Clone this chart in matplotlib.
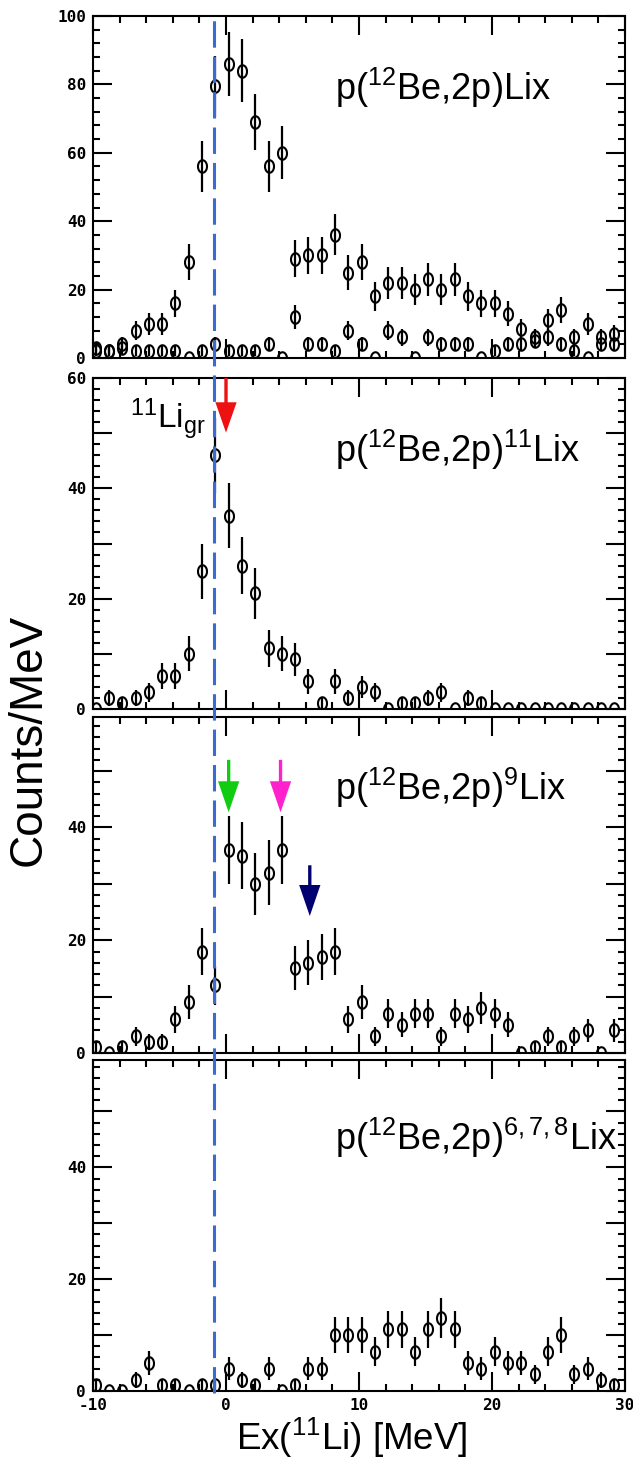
import numpy as np
import matplotlib
matplotlib.use('Agg')
import matplotlib.pyplot as plt
from matplotlib.path import Path
from matplotlib.lines import Line2D
from matplotlib.ticker import MultipleLocator
import matplotlib.transforms as mtransforms

plt.rcParams['font.family'] = 'Liberation Sans'
plt.rcParams['mathtext.fontset'] = 'custom'
plt.rcParams['mathtext.rm'] = 'Liberation Sans'
plt.rcParams['mathtext.it'] = 'Liberation Sans:italic'
plt.rcParams['mathtext.bf'] = 'Liberation Sans:bold'
plt.rcParams['lines.scale_dashes'] = False

# bin centres, Ex(11Li) [MeV]
ex = [-9.8, -8.8, -7.8, -6.8, -5.8, -4.8, -3.8, -2.8, -1.8, -0.8,
      0.2, 1.2, 2.2, 3.2, 4.2, 5.2, 6.2, 7.2, 8.2, 9.2,
      10.2, 11.2, 12.2, 13.2, 14.2, 15.2, 16.2, 17.2, 18.2, 19.2,
      20.2, 21.2, 22.2, 23.2, 24.2, 25.2, 26.2, 27.2, 28.2, 29.2]

# panel 1: all Li
lix_all = [3, 2, 4, 8, 10, 10, 16, 28, 56, 79.5, 86, 84, 69, 56, 60, 29, 30, 30, 36, 25,
           28, 18, 22, 22, 20, 23, 20, 23, 18, 16, 16, 13, 8.5, 6, 11, 14, 6, 10, 6, 7]
lix_all_err = [1.7, 1.4, 2.0, 2.8, 3.2, 3.2, 4.0, 5.3, 7.5, 8.9, 9.3, 9.2, 8.3, 7.5, 7.7, 5.4, 5.5, 5.5, 6.0, 5.0,
               5.3, 4.2, 4.7, 4.7, 4.5, 4.8, 4.5, 4.8, 4.2, 4.0, 4.0, 3.6, 2.9, 2.4, 3.3, 3.7, 2.4, 3.2, 2.4, 2.6]
lix_low = [2, 2, 3, 2, 2, 2, 2, 0, 2, 4, 2, 2, 2, 4, 0, 12, 4, 4, 2, 8,
           4, 0, 8, 6, 0, 6, 4, 4, 4, 0, 2, 4, 4, 5, 6, 4, 2, 0, 4, 4]
lix_low_err = [1.4, 1.4, 1.7, 1.4, 1.4, 1.4, 1.4, 0, 1.4, 2.0, 1.4, 1.4, 1.4, 2.0, 0, 3.5, 2.0, 2.0, 1.4, 2.8,
               2.0, 0, 2.8, 2.4, 0, 2.4, 2.0, 2.0, 2.0, 0, 1.4, 2.0, 2.0, 2.2, 2.4, 2.0, 1.4, 0, 2.0, 2.0]

# panel 2: 11Li
li11 = [0, 2, 1, 2, 3, 6, 6, 10, 25, 46, 35, 26, 21, 11, 10, 9, 5, 1, 5, 2,
        4, 3, 0, 1, 1, 2, 3, 0, 2, 1, 0, 0, 0, 0, 0, 0, 0, 0, 0, 0]
li11_err = [0, 1.4, 1.0, 1.4, 1.7, 2.4, 2.4, 3.2, 5.0, 6.8, 5.9, 5.1, 4.6, 3.3, 3.2, 3.0, 2.2, 1.0, 2.2, 1.4,
            2.0, 1.7, 0, 1.0, 1.0, 1.4, 1.7, 0, 1.4, 1.0, 0, 0, 0, 0, 0, 0, 0, 0, 0, 0]

# panel 3: 9Li
li9 = [1, 0, 1, 3, 2, 2, 6, 9, 18, 12, 36, 35, 30, 32, 36, 15, 16, 17, 18, 6,
       9, 3, 7, 5, 7, 7, 3, 7, 6, 8, 7, 5, 0, 1, 3, 1, 3, 4, 0, 4]
li9_err = [1.0, 0, 1.0, 1.7, 1.4, 1.4, 2.4, 3.0, 4.2, 3.5, 6.0, 5.9, 5.5, 5.7, 6.0, 3.9, 4.0, 4.1, 4.2, 2.4,
           3.0, 1.7, 2.6, 2.2, 2.6, 2.6, 1.7, 2.6, 2.4, 2.8, 2.6, 2.2, 0, 1.0, 1.7, 1.0, 1.7, 2.0, 0, 2.0]

# panel 4: 6,7,8Li
li678 = [1, 0, 0, 2, 5, 1, 1, 0, 1, 1, 4, 2, 1, 4, 0, 1, 4, 4, 10, 10,
         10, 7, 11, 11, 7, 11, 13, 11, 5, 4, 7, 5, 5, 3, 7, 10, 3, 4, 2, 1]
li678_err = [1.0, 0, 0, 1.4, 2.2, 1.0, 1.0, 0, 1.0, 1.0, 2.0, 1.4, 1.0, 2.0, 0, 1.0, 2.0, 2.0, 3.2, 3.2,
             3.2, 2.6, 3.3, 3.3, 2.6, 3.3, 3.6, 3.3, 2.2, 2.0, 2.6, 2.2, 2.2, 1.7, 2.6, 3.2, 1.7, 2.0, 1.4, 1.0]

titles = [r'p($^{12}$Be,2p)Lix', r'p($^{12}$Be,2p)$^{11}$Lix',
          r'p($^{12}$Be,2p)$^{9}$Lix', r'p($^{12}$Be,2p)$^{6,7,8}$Lix']
ytops = [100, 60, 59.6, 59.2]
xticks = [-10, 0, 10, 20, 30]
gs_line = -0.9   # dashed line, 11Li ground state

# arrows (panel index, x, start, tip, colour)
arrow_panel = [1, 2, 2, 2]
arrow_x = [0.0, 0.2, 4.1, 6.3]
arrow_top = [60, 52, 52, 33.3]
arrow_tip = [50.1, 42.7, 42.7, 24.3]
arrow_col = ['#ee1111', '#11cc11', '#ff22cc', '#000070']

# panel positions in pixels (top, bottom)
W, H = 633, 1461
panel_px = [(16, 358), (378, 709), (717, 1053), (1060, 1391)]
left_px, right_px = 93, 625

fig = plt.figure(figsize=(W / 100, H / 100), dpi=100)

t = np.linspace(0, 2 * np.pi, 40)
oval = Path(np.column_stack([0.72 * np.cos(t), np.sin(t)]), closed=True)
tickfont = dict(fontfamily='DejaVu Sans Mono', fontweight='bold', fontsize=11.5)

axes = []
for i, (tp, bt) in enumerate(panel_px):
    ax = fig.add_axes([left_px / W, 1 - bt / H, (right_px - left_px) / W, (bt - tp) / H])
    axes.append(ax)
    for s in ax.spines.values():
        s.set_linewidth(1.5)
    ax.xaxis.set_major_locator(MultipleLocator(10))
    ax.xaxis.set_minor_locator(MultipleLocator(2))
    if i == 0:
        yt = [0, 20, 40, 60, 80, 100]
        ax.set_yticks(yt, [str(v) for v in yt], **tickfont)
        ax.yaxis.set_minor_locator(MultipleLocator(4))
    else:
        yt = [0, 10, 20, 30, 40, 50, 60] if i == 1 else [0, 10, 20, 30, 40, 50]
        ax.set_yticks(yt, [str(v) if v % 20 == 0 else '' for v in yt], **tickfont)
        ax.yaxis.set_minor_locator(MultipleLocator(2))
    ax.set_ylim(0, ytops[i])
    ax.tick_params(which='both', direction='in', top=True, right=True, width=1.5)
    ax.tick_params(which='major', length=14, pad=5)
    ax.tick_params(which='minor', length=5)
    if i == 3:
        ax.set_xticks(xticks, [str(v) for v in xticks], **tickfont)
    else:
        ax.tick_params(axis='x', labelbottom=False)
    ax.set_xlim(-10, 30)

series = [[(lix_all, lix_all_err), (lix_low, lix_low_err)],
          [(li11, li11_err)], [(li9, li9_err)], [(li678, li678_err)]]
for ax, ser in zip(axes, series):
    for y, e in ser:
        ax.errorbar(ex, y, yerr=e, fmt='none', ecolor='black', elinewidth=1.6, capsize=0)
        ax.plot(ex, y, ls='none', marker=oval, ms=9, mfc='none', mec='black', mew=1.5)

ybase = [0.754, 0.747, 0.753, 0.728]
for ax, ttl, yb in zip(axes, titles, ybase):
    ax.text(0.455, yb, ttl, transform=ax.transAxes, fontsize=26, va='baseline', ha='left')

axes[1].text(0.07, 0.848, r'$^{11}$Li$_{\mathrm{gr}}$', transform=axes[1].transAxes,
             fontsize=24, va='baseline', ha='left')

for p, x, a0, a1, c in zip(arrow_panel, arrow_x, arrow_top, arrow_tip, arrow_col):
    axes[p].arrow(x, a0, 0, a1 - a0, width=0.25, head_width=1.6, head_length=5.5,
                  length_includes_head=True, fc=c, ec=c, lw=0, zorder=5)

# dashed line through all panels
trans = mtransforms.blended_transform_factory(axes[3].transData, fig.transFigure)
fig.add_artist(Line2D([gs_line, gs_line], [1 - 1393 / H, 1 - 16 / H], transform=trans,
                      color='#3a6bd0', lw=2.2, dashes=(19, 6.5), zorder=10))

fig.text(29 / W, 1 - 740 / H, 'Counts/MeV', rotation=90, fontsize=33, ha='center', va='center')
fig.text(352 / W, 1 - 1438 / H, r'Ex($^{11}$Li) [MeV]', fontsize=26.5, ha='center', va='center')

fig.savefig('out.png', dpi=100)
